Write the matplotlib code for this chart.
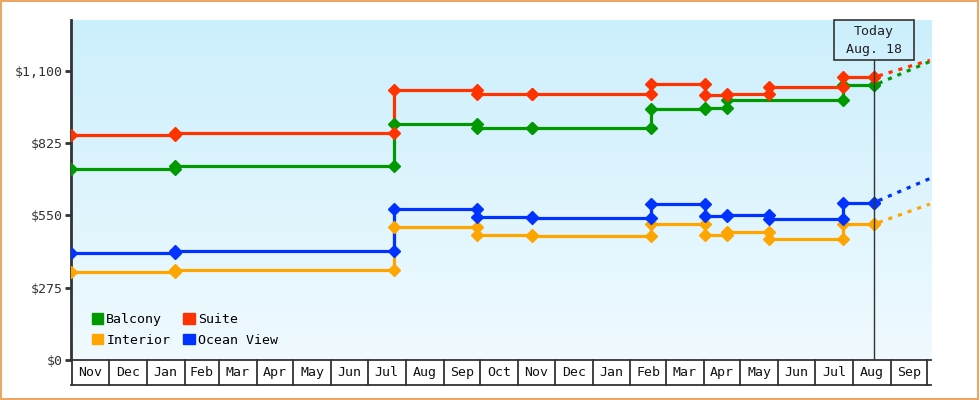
import datetime as dt
import matplotlib
matplotlib.use("Agg")
import matplotlib.pyplot as plt
import matplotlib.dates as mdates
import matplotlib.transforms as mtransforms
from matplotlib.patches import Patch, Rectangle
import numpy as np

plt.rcParams['font.family'] = ['DejaVu Sans Mono']

D = dt.date

# price change dates per cabin type
suite_dates = [D(2022, 10, 31), D(2023, 1, 24), D(2023, 7, 22), D(2023, 9, 28), D(2023, 11, 12),
               D(2024, 2, 18), D(2024, 4, 2), D(2024, 4, 20), D(2024, 5, 24), D(2024, 7, 24), D(2024, 8, 18)]
suite_prices = [855, 865, 1027, 1013, 1011, 1048, 1006, 1011, 1037, 1075, 1075]

balcony_dates = [D(2022, 10, 31), D(2023, 1, 24), D(2023, 7, 22), D(2023, 9, 28), D(2023, 11, 12),
                 D(2024, 2, 18), D(2024, 4, 2), D(2024, 4, 20), D(2024, 7, 24), D(2024, 8, 18)]
balcony_prices = [725, 737, 896, 884, 881, 955, 957, 988, 1044, 1044]

ocean_dates = suite_dates
ocean_prices = [406, 414, 573, 542, 539, 593, 549, 550, 536, 596, 598]

interior_dates = suite_dates
interior_prices = [333, 343, 505, 474, 471, 517, 476, 485, 460, 516, 516]

# projected prices at the end of the window
proj_date = D(2024, 10, 3)
proj = {'Balcony': 1135, 'Suite': 1140, 'Interior': 593, 'Ocean View': 690}

today = D(2024, 8, 18)
x_start, x_end = D(2022, 10, 31), D(2024, 10, 4)
y_ticks = [0, 275, 550, 825, 1100]
y_labels = ['$0', '$275', '$550', '$825', '$1,100']

series = [
    ('Balcony', balcony_dates, balcony_prices, '#009900'),
    ('Suite', suite_dates, suite_prices, '#FF3300'),
    ('Interior', interior_dates, interior_prices, '#FFA500'),
    ('Ocean View', ocean_dates, ocean_prices, '#0033FF'),
]

fig = plt.figure(figsize=(9.8, 4.0), dpi=100)
ax = fig.add_axes([71 / 980, 40 / 400, 860 / 980, 340 / 400])

ax.set_xlim(mdates.date2num(x_start), mdates.date2num(x_end))
ax.set_ylim(0, 1293)

# background gradient
grad = np.linspace(0, 1, 256).reshape(-1, 1)
top = np.array([204, 239, 252]) / 255
bot = np.array([240, 250, 255]) / 255
img = top + (bot - top) * grad[:, :, None] * np.ones((1, 1, 3))
ax.imshow(img, extent=[0, 1, 0, 1], transform=ax.transAxes, aspect='auto', zorder=0)

for name, dates, prices, col in series:
    xs = mdates.date2num(dates)
    ax.step(xs, prices, where='post', color=col, lw=2.3, zorder=3, solid_joinstyle='miter')
    mx = list(xs) + list(xs[1:])
    my = list(prices) + list(prices[:-1])
    ax.plot(mx, my, 'D', color=col, ms=6, zorder=4)
    ax.plot(mdates.date2num([dates[-1], proj_date]), [prices[-1], proj[name]],
            color=col, lw=2.3, ls=(1.5, (1.3, 1.9)), zorder=3)

# axes styling
for s in ['top', 'right', 'bottom']:
    ax.spines[s].set_visible(False)
ax.spines['left'].set_color('#333333')
ax.spines['left'].set_linewidth(2)
ax.set_yticks(y_ticks)
ax.set_yticklabels(y_labels, fontsize=9.5, color='#333333')
ax.tick_params(axis='y', length=4, width=2, color='#333333', pad=2)
ax.set_xticks([])

# month cells under the axis
trans = mtransforms.blended_transform_factory(ax.transData, ax.transAxes)
cell_b = -25 / 340
ax.plot([0, 1], [0, 0], transform=ax.transAxes, color='#333333', lw=1.3, clip_on=False, zorder=5)
ax.plot([0, 1], [cell_b, cell_b], transform=ax.transAxes, color='#333333', lw=1.3, clip_on=False)
m = D(2022, 11, 1)
while m < x_end:
    nxt = D(m.year + (m.month == 12), m.month % 12 + 1, 1)
    x0 = mdates.date2num(m)
    ax.plot([x0, x0], [0, cell_b], transform=trans, color='#333333', lw=1.3, clip_on=False)
    if nxt <= x_end:
        xm = (x0 + mdates.date2num(nxt)) / 2
        ax.text(xm, cell_b / 2, m.strftime('%b'), transform=trans, ha='center', va='center',
                fontsize=9.5, color='#111111', clip_on=False)
    m = nxt

# today marker
tx = mdates.date2num(today)
box_b = (360 - 60.3) / 340
ax.plot([tx, tx], [0, box_b], transform=trans, color='#333333', lw=1, zorder=6)
half = 40 / (860 / (mdates.date2num(x_end) - mdates.date2num(x_start)))
ax.add_patch(Rectangle((tx - half, box_b), 2 * half, 1 - box_b, transform=trans,
                       fill=False, ec='#333333', lw=1.2, zorder=6, clip_on=False))
ax.text(tx, 1 - 12 / 340, 'Today', transform=trans, ha='center', va='center', fontsize=9.5, color='#222222')
ax.text(tx, 1 - 30 / 340, 'Aug. 18', transform=trans, ha='center', va='center', fontsize=9.5, color='#222222')

# legend
handles = [Patch(color=c, label=n) for n, _, _, c in series]
order = [0, 2, 1, 3]
ax.legend([handles[i] for i in order], [series[i][0] for i in order], ncol=2,
          loc='lower left', bbox_to_anchor=(0.018, 0.024), frameon=False, fontsize=9.5,
          handlelength=0.85, handleheight=0.85, handletextpad=0.25, columnspacing=1.0,
          labelspacing=0.55, borderaxespad=0)

# figure border
fig.add_artist(Rectangle((0.001, 0.002), 0.997, 0.996, transform=fig.transFigure,
                         fill=False, ec='#EBA865', lw=1.5))

fig.savefig('out.png', dpi=100)
